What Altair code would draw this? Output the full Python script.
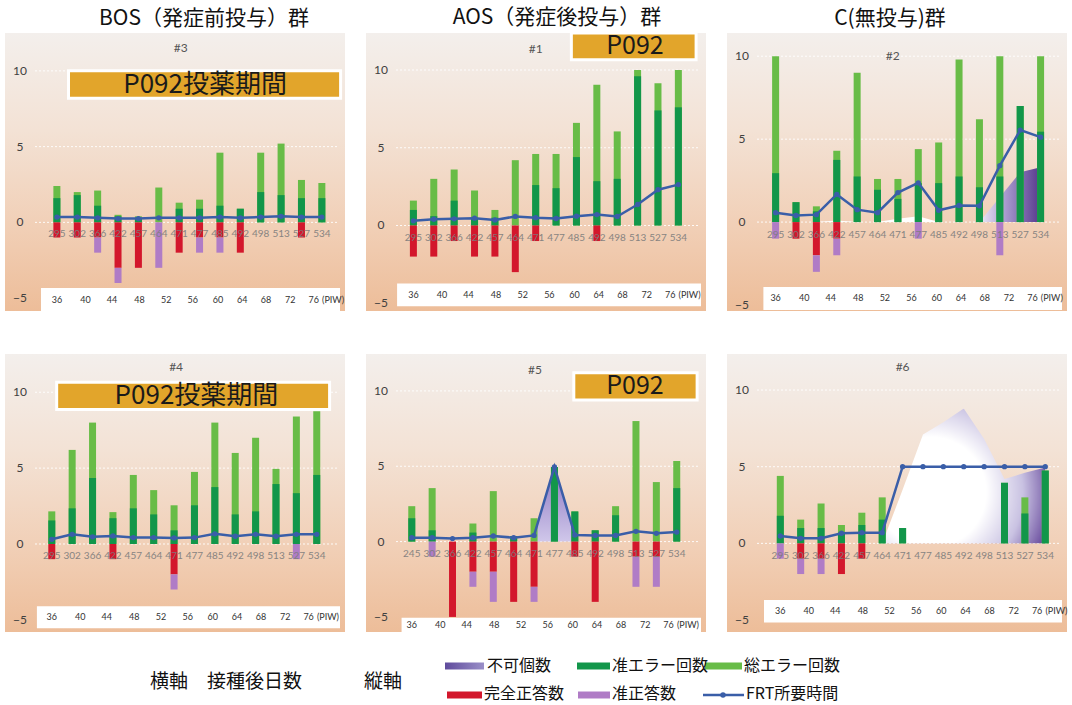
import altair as alt
import pandas as pd

# ---------------- data ----------------
DAYS = ["295", "302", "366", "422", "457", "464", "471", "477", "485", "492", "498", "513", "527", "534"]
DAYS_P5 = ["245", "302", "366", "422", "457", "464", "471", "477", "485", "492", "498", "513", "527", "534"]
PIW_LABELS = ["36", "40", "44", "48", "52", "56", "60", "64", "68", "72", "76", "(PIW)"]
PIW_AT = [0, 1.4, 2.7, 4.05, 5.36, 6.67, 7.9, 9.09, 10.26, 11.45, 12.6, 13.55]
Y_TICKS = [10, 5, 0, -5]
GRID_AT = [10, 5, 0]
GROUP_TITLES = ["BOS（発症前投与）群", "AOS（発症後投与）群", "C(無投与)群"]

# panel #3 (BOS)
p3_total = [2.4, 2.0, 2.1, 0.5, 0.4, 2.3, 1.3, 1.5, 4.6, 0.9, 4.6, 5.2, 2.8, 2.6]
p3_semi_err = [1.6, 1.8, 1.1, 0.4, 0.3, 0.0, 0.9, 0.9, 1.1, 0.9, 2.0, 1.8, 1.6, 1.6]
p3_correct = [1, 1, 1, 3, 3, 0, 2, 1, 1, 2, 0, 0, 1, 0]
p3_semi_correct = [0, 0, 1, 1, 0, 3, 0, 1, 1, 0, 0, 0, 0, 0]
p3_frt = [0.35, 0.35, 0.3, 0.25, 0.25, 0.3, 0.3, 0.3, 0.35, 0.3, 0.35, 0.4, 0.35, 0.35]
p3_unable = [None] * 14

# panel #1 (AOS)
p1_total = [1.6, 3.0, 3.6, 2.25, 1.0, 4.2, 4.6, 4.6, 6.6, 9.05, 6.05, 10.0, 9.15, 10.0]
p1_semi_err = [1.0, 0.6, 1.6, 0.5, 0.5, 0.0, 2.6, 2.4, 4.4, 2.85, 3.0, 9.6, 7.4, 7.6]
p1_correct = [2, 2, 1, 2, 2, 3, 1, 0, 0, 1, 0, 0, 0, 0]
p1_semi_correct = [0] * 14
p1_frt = [0.3, 0.4, 0.43, 0.47, 0.36, 0.58, 0.5, 0.45, 0.6, 0.7, 0.58, 1.35, 2.3, 2.63]
p1_unable = [None] * 14

# panel #2 (C)
p2_total = [10.0, 1.2, 0.95, 4.3, 9.0, 2.6, 2.6, 4.4, 4.8, 9.8, 6.2, 10.0, 7.0, 10.0]
p2_semi_err = [2.95, 1.2, 0.65, 3.75, 2.75, 1.95, 1.4, 2.35, 2.35, 2.75, 2.1, 2.75, 7.0, 5.45]
p2_correct = [0, 1, 2, 1, 0, 0, 0, 0, 0, 0, 0, 0, 0, 0]
p2_semi_correct = [1, 0, 1, 1, 0, 0, 0, 1, 0, 0, 0, 2, 0, 0]
p2_frt = [0.57, 0.4, 0.45, 1.67, 0.75, 0.57, 1.78, 2.37, 0.71, 1.0, 0.98, 3.4, 5.55, 5.12]
p2_unable = [None, None, 0, 0.1, 0, 0, 0.2, 0.35, 0, 0, 0, 1.5, 3.0, 3.3]

# panel #4 (BOS)
p4_total = [2.15, 6.2, 8.0, 2.1, 4.55, 3.55, 2.55, 4.75, 8.0, 6.0, 7.0, 4.95, 8.4, 8.75]
p4_semi_err = [1.55, 2.35, 4.35, 1.7, 2.35, 1.95, 0.9, 2.55, 3.75, 1.95, 2.15, 3.95, 3.35, 4.55]
p4_correct = [1, 0, 0, 1, 0, 0, 2, 0, 0, 0, 0, 0, 0, 0]
p4_semi_correct = [0, 0, 0, 0, 0, 0, 1, 0, 0, 0, 0, 0, 1, 0]
p4_frt = [0.31, 0.64, 0.47, 0.53, 0.42, 0.42, 0.4, 0.42, 0.67, 0.51, 0.64, 0.51, 0.64, 0.64]
p4_unable = [None] * 14

# panel #5 (AOS)
p5_total = [2.35, 3.55, 0, 1.2, 3.35, 0.37, 1.55, 4.95, 2.0, 0.75, 2.35, 8.0, 3.95, 5.35]
p5_semi_err = [1.55, 0.75, 0, 0.6, 0, 0.37, 0, 4.95, 2.0, 0.75, 1.75, 0, 0, 3.55]
p5_correct = [0, 0, 5, 2, 2, 4, 3, 0, 1, 4, 0, 1, 1, 0]
p5_semi_correct = [0, 1, 0, 1, 2, 0, 1, 0, 0, 0, 0, 2, 2, 0]
p5_frt = [0.26, 0.26, 0.2, 0.26, 0.37, 0.26, 0.41, 4.96, 0.44, 0.41, 0.41, 0.68, 0.55, 0.63]
p5_unable = [None, None, None, None, None, None, 0.41, 4.96, 0.44, None, None, None, None, None]

# panel #6 (C)
p6_total = [4.4, 1.55, 2.6, 1.2, 2.0, 3.0, 1.0, 0, 0, 0, 0, 3.95, 3.0, 4.75]
p6_semi_err = [1.8, 1.0, 1.0, 0.7, 1.2, 1.55, 1.0, 0, 0, 0, 0, 3.95, 1.95, 4.75]
p6_correct = [0, 1, 1, 2, 1, 0, 0, 0, 0, 0, 0, 0, 0, 0]
p6_semi_correct = [1, 1, 1, 0, 0, 0, 0, 0, 0, 0, 0, 0, 0, 0]
p6_frt = [0.48, 0.33, 0.33, 0.66, 0.7, 0.7, 5, 5, 5, 5, 5, 5, 5, 5]
p6_unable = [None, None, None, None, None, 0, 3.5, 7.1, 7.9, 8.8, 6.8, 4.2, 4.6, 4.95]

LEGEND_LABELS = ["不可個数", "准エラー回数", "総エラー回数", "完全正答数", "准正答数", "FRT所要時間"]

# ---------------- styles / layout ----------------
LIGHT = "#68bc47"
DARK = "#12964a"
RED = "#d3172c"
PURPLE = "#b07cc6"
BLUE = "#3a5ea8"
GOLD = "#e2a52b"
JP = "Noto Sans CJK JP"
NUM = "Lato"

W, H = 340, 278
UNIT = 21.0

BG_GRAD = alt.LinearGradient(
    gradient="linear", x1=0, y1=0, x2=0, y2=1,
    stops=[alt.GradientStop(offset=0, color="#f3efec"),
           alt.GradientStop(offset=0.35, color="#f3e2d5"),
           alt.GradientStop(offset=0.7, color="#f1cfb6"),
           alt.GradientStop(offset=1, color="#edbd99")])

GRAD_P2 = alt.LinearGradient(
    gradient="linear", x1=0, y1=0, x2=1, y2=0,
    stops=[alt.GradientStop(offset=0, color="#ffffff"),
           alt.GradientStop(offset=0.7, color="#ffffff"),
           alt.GradientStop(offset=0.83, color="#b1a3d5"),
           alt.GradientStop(offset=1, color="#55388c")])
GRAD_P5 = alt.LinearGradient(
    gradient="linear", x1=0, y1=0, x2=0, y2=1,
    stops=[alt.GradientStop(offset=0, color="#8b77c1"),
           alt.GradientStop(offset=1, color="#d0c7ea")])
GRAD_P6 = alt.RadialGradient(
    gradient="radial", x1=0.3, y1=0.6, r1=0, x2=0.3, y2=0.6, r2=0.75,
    stops=[alt.GradientStop(offset=0, color="#ffffff"),
           alt.GradientStop(offset=0.45, color="#ffffff"),
           alt.GradientStop(offset=0.75, color="#c9c2e2"),
           alt.GradientStop(offset=1, color="#6a4d9e")])
GRAD_LEG = alt.LinearGradient(
    gradient="linear", x1=0, y1=0, x2=1, y2=0,
    stops=[alt.GradientStop(offset=0, color="#5f4b9c"),
           alt.GradientStop(offset=1, color="#9a8fc8")])

LAYOUT = {
    "#3": dict(x_lo=-2.3, y_dom=(-5.85, 12.5), strip=(-0.78, -4.34, -5.85), tag=(6.08, 11.5),
               box=dict(x0=0.57, x1=13.92, y0=8.2, y1=10.0, tx=7.27, text="P092投薬期間", fs=26)),
    "#1": dict(x_lo=-2.08, y_dom=(-5.5, 12.38), strip=(-0.8, -3.73, -5.2), tag=(6.0, 11.37),
               box=dict(x0=7.75, x1=13.87, y0=10.66, y1=12.38, tx=10.87, text="P092", fs=25)),
    "#2": dict(x_lo=-2.14, y_dom=(-5.36, 11.4), strip=(-0.6, -3.91, -5.3), tag=(5.75, 10.0), box=None,
               grad=GRAD_P2),
    "#4": dict(x_lo=-2.05, y_dom=(-5.8, 12.52), strip=(-0.73, -4.1, -5.56), tag=(6.1, 11.65),
               box=dict(x0=0.24, x1=13.63, y0=8.87, y1=10.66, tx=7.1, text="P092投薬期間", fs=26)),
    "#5": dict(x_lo=-2.0, y_dom=(-6.0, 12.45), strip=(-0.5, -5.06, -6.0), tag=(6.05, 11.4),
               box=dict(x0=7.95, x1=14.0, y0=9.4, y1=11.2, tx=10.95, text="P092", fs=25), grad=GRAD_P5),
    "#6": dict(x_lo=-2.37, y_dom=(-5.78, 12.35), strip=(-0.8, -3.7, -5.16), tag=(6.0, 11.5), box=None,
               grad=GRAD_P6),
}


def panel(tag, days, total, semi_err, correct, semi_correct, frt, unable, title=None, title_dx=0):
    lay = LAYOUT[tag]
    lo = lay["x_lo"]
    hi = lo + W / UNIT
    ylo, yhi = lay["y_dom"]
    xs = alt.Scale(domain=[lo, hi], nice=False, zero=False)
    ys = alt.Scale(domain=[ylo, yhi], nice=False, zero=False)
    n = len(days)
    df = pd.DataFrame({
        "i": list(range(n)),
        "day": days,
        "total": total,
        "semi_err": semi_err,
        "red_end": [-v for v in correct],
        "purple_end": [-(a + b) for a, b in zip(correct, semi_correct)],
        "frt": frt,
        "unable": unable,
        "base": [0] * n,
        "lab_y": [-0.8] * n,
    })
    X = alt.X("i:Q", scale=xs, axis=None)

    one = pd.DataFrame({"a": [0]})
    bg = alt.Chart(one).mark_rect(fill=BG_GRAD).encode(
        x=alt.value(0), x2=alt.value(W), y=alt.value(0), y2=alt.value(H))

    grid = alt.Chart(pd.DataFrame({"g": GRID_AT})).mark_rule(
        color="white", strokeDash=[2, 2], strokeWidth=1, opacity=0.9
    ).encode(y=alt.Y("g:Q", scale=ys, axis=None), x=alt.value(30), x2=alt.value(W - 6))

    sx0, sy0, sy1 = lay["strip"]
    strip = alt.Chart(pd.DataFrame({"x0": [sx0], "x1": [hi], "y0": [sy0], "y1": [sy1]})).mark_rect(
        fill="white").encode(x=alt.X("x0:Q", scale=xs, axis=None), x2="x1:Q",
                             y=alt.Y("y0:Q", scale=ys, axis=None), y2="y1:Q")

    layers = [bg, grid, strip]

    area_df = df[df["unable"].notna()]
    if len(area_df) > 0:
        layers.append(alt.Chart(area_df).mark_area(fill=lay.get("grad", GRAD_P2), opacity=1).encode(
            x=X, y=alt.Y("unable:Q", scale=ys, axis=None), y2="base:Q"))

    layers += [
        alt.Chart(df).mark_bar(size=7, color=LIGHT).encode(
            x=X, y=alt.Y("total:Q", scale=ys, axis=None), y2="base:Q"),
        alt.Chart(df).mark_bar(size=7, color=DARK).encode(
            x=X, y=alt.Y("semi_err:Q", scale=ys, axis=None), y2="base:Q"),
        alt.Chart(df).mark_bar(size=7, color=RED).encode(
            x=X, y=alt.Y("red_end:Q", scale=ys, axis=None), y2="base:Q"),
        alt.Chart(df).mark_bar(size=7, color=PURPLE).encode(
            x=X, y=alt.Y("purple_end:Q", scale=ys, axis=None), y2="red_end:Q"),
        alt.Chart(df).mark_text(font=NUM, fontSize=10, color="#7c7c7c", opacity=0.9).encode(
            x=X, y=alt.Y("lab_y:Q", scale=ys, axis=None), text="day:N"),
        alt.Chart(df).mark_line(color=BLUE, strokeWidth=2.5,
                                point=alt.OverlayMarkDef(filled=True, size=28, color=BLUE)).encode(
            x=X, y=alt.Y("frt:Q", scale=ys, axis=None)),
        alt.Chart(pd.DataFrame({"v": Y_TICKS})).mark_text(
            font=NUM, fontSize=12, color="#404040").encode(
            y=alt.Y("v:Q", scale=ys, axis=None), x=alt.value(15), text="v:Q"),
        alt.Chart(pd.DataFrame({"p": PIW_AT, "t": PIW_LABELS,
                                "y": [(sy0 + sy1) / 2] * len(PIW_AT)})).mark_text(
            font=NUM, fontSize=9, color="#333333").encode(
            x=alt.X("p:Q", scale=xs, axis=None), y=alt.Y("y:Q", scale=ys, axis=None), text="t:N"),
        alt.Chart(pd.DataFrame({"x": [lay["tag"][0]], "y": [lay["tag"][1]], "t": [tag]})).mark_text(
            font=NUM, fontSize=12, color="#555555").encode(
            x=alt.X("x:Q", scale=xs, axis=None), y=alt.Y("y:Q", scale=ys, axis=None), text="t:N"),
    ]

    box = lay.get("box")
    if box:
        bdf = pd.DataFrame({"x0": [box["x0"]], "x1": [box["x1"]], "y0": [box["y0"]], "y1": [box["y1"]],
                            "tx": [box["tx"]], "ty": [(box["y0"] + box["y1"]) / 2], "t": [box["text"]]})
        layers.append(alt.Chart(bdf).mark_rect(fill=GOLD, stroke="white", strokeWidth=3).encode(
            x=alt.X("x0:Q", scale=xs, axis=None), x2="x1:Q",
            y=alt.Y("y0:Q", scale=ys, axis=None), y2="y1:Q"))
        layers.append(alt.Chart(bdf).mark_text(font=JP, fontSize=box["fs"], color="#1a1a1a",
                                               baseline="middle").encode(
            x=alt.X("tx:Q", scale=xs, axis=None), y=alt.Y("ty:Q", scale=ys, axis=None), text="t:N"))

    ch = alt.layer(*layers).properties(width=W, height=H)
    if title:
        ch = ch.properties(title=alt.TitleParams(text=title, fontSize=21, font=JP, fontWeight="normal",
                                                 color="#111111", anchor="middle", offset=4, dx=title_dx))
    return ch


c3 = panel("#3", DAYS, p3_total, p3_semi_err, p3_correct, p3_semi_correct, p3_frt, p3_unable,
           GROUP_TITLES[0], 29)
c1 = panel("#1", DAYS, p1_total, p1_semi_err, p1_correct, p1_semi_correct, p1_frt, p1_unable,
           GROUP_TITLES[1], 21)
c2 = panel("#2", DAYS, p2_total, p2_semi_err, p2_correct, p2_semi_correct, p2_frt, p2_unable,
           GROUP_TITLES[2], -7)
c4 = panel("#4", DAYS, p4_total, p4_semi_err, p4_correct, p4_semi_correct, p4_frt, p4_unable)
c5 = panel("#5", DAYS_P5, p5_total, p5_semi_err, p5_correct, p5_semi_correct, p5_frt, p5_unable)
c6 = panel("#6", DAYS, p6_total, p6_semi_err, p6_correct, p6_semi_correct, p6_frt, p6_unable)

# ---------------- legend strip ----------------
LW, LH = 1062, 64
lxs = alt.Scale(domain=[0, LW], nice=False, zero=False)
lys = alt.Scale(domain=[0, LH], nice=False, zero=False, reverse=True)
leg_swatch = pd.DataFrame({
    "x0": [572, 700, 442, 573],
    "x1": [605, 737, 477, 605],
    "y0": [26.5, 26.5, 55.5, 55.5],
    "y1": [33.5, 33.5, 62.5, 62.5],
    "c": [DARK, LIGHT, RED, PURPLE],
})
leg_grad = pd.DataFrame({"x0": [440], "x1": [479], "y0": [26.5], "y1": [33.5]})
leg_text = pd.DataFrame({
    "x": [482, 607, 739, 479, 607, 741],
    "y": [30, 30, 30, 58, 58, 58],
    "t": LEGEND_LABELS,
})
leg_line = pd.DataFrame({"x": [698, 718, 739], "y": [59, 59, 59]})
leg_axis = pd.DataFrame({"x": [145, 359], "y": [46, 46], "t": ["横軸　接種後日数", "縦軸"]})

LX = lambda f: alt.X(f, scale=lxs, axis=None)
LY = lambda f: alt.Y(f, scale=lys, axis=None)
legend = alt.layer(
    alt.Chart(leg_swatch).mark_rect().encode(x=LX("x0:Q"), x2="x1:Q", y=LY("y0:Q"), y2="y1:Q",
                                             color=alt.Color("c:N", scale=None)),
    alt.Chart(leg_grad).mark_rect(fill=GRAD_LEG).encode(x=LX("x0:Q"), x2="x1:Q", y=LY("y0:Q"), y2="y1:Q"),
    alt.Chart(leg_line).mark_line(color=BLUE, strokeWidth=2.5).encode(x=LX("x:Q"), y=LY("y:Q")),
    alt.Chart(leg_line.iloc[[1]]).mark_point(filled=True, color=BLUE, size=30, opacity=1).encode(
        x=LX("x:Q"), y=LY("y:Q")),
    alt.Chart(leg_text).mark_text(font=JP, fontSize=16, align="left", color="#111111").encode(
        x=LX("x:Q"), y=LY("y:Q"), text="t:N"),
    alt.Chart(leg_axis).mark_text(font=JP, fontSize=19, align="left", color="#111111").encode(
        x=LX("x:Q"), y=LY("y:Q"), text="t:N"),
).properties(width=LW, height=LH)

row1 = alt.hconcat(c3, c1, c2, spacing=21)
row2 = alt.hconcat(c4, c5, c6, spacing=21)
panels = alt.vconcat(row1, row2, spacing=42)
chart = alt.vconcat(panels, legend, spacing=4).properties(
    padding={"left": 5, "top": 6, "right": 0, "bottom": 0}
).configure_view(stroke=None)

chart.save("out.html", embed_options={"renderer": "svg", "actions": False})
